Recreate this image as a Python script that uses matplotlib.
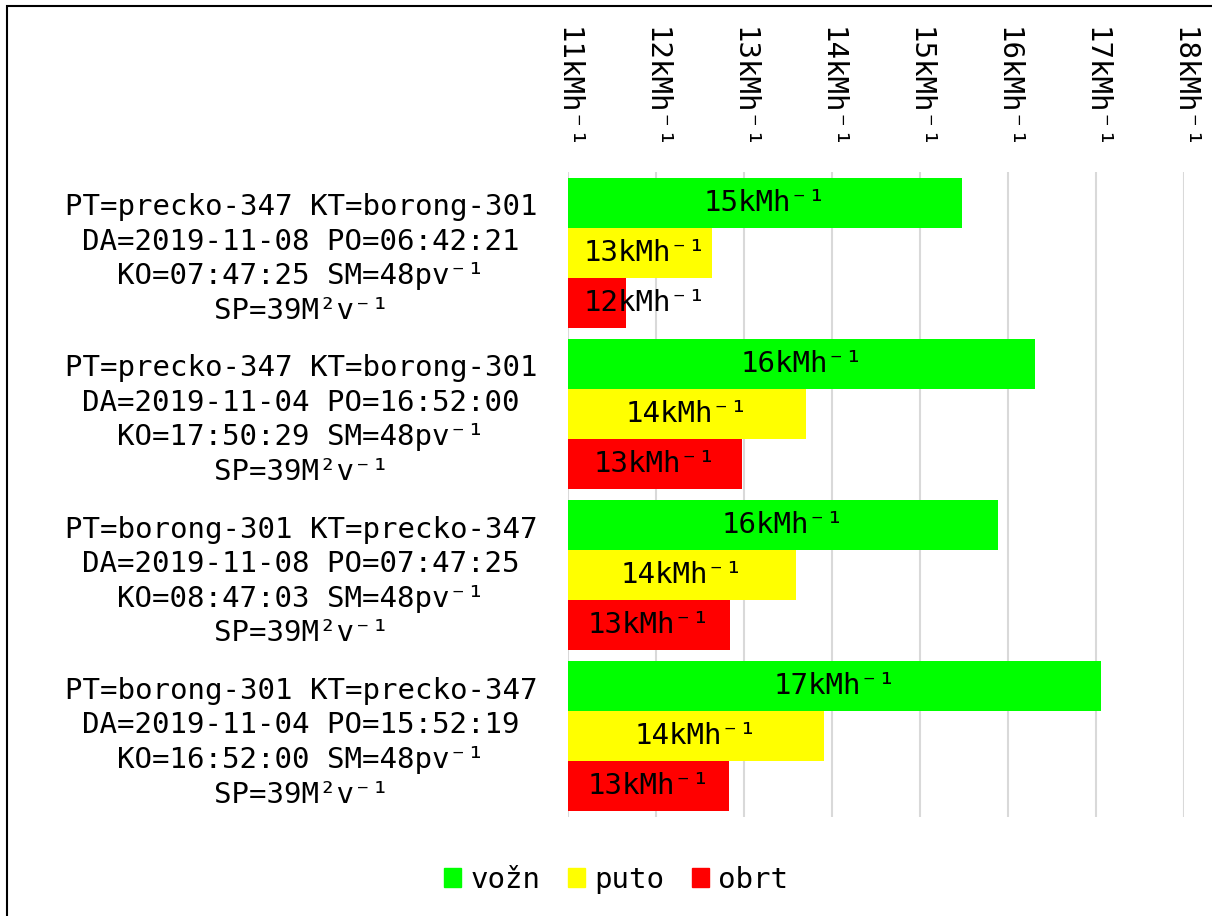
import matplotlib
matplotlib.use('Agg')
import matplotlib.pyplot as plt
from matplotlib.patches import Patch, Rectangle

plt.rcParams['font.family'] = ['DejaVu Sans Mono', 'DejaVu Sans']

routes = [
    'PT=precko-347 KT=borong-301\nDA=2019-11-08 PO=06:42:21\nKO=07:47:25 SM=48pv⁻¹\nSP=39M²v⁻¹',
    'PT=precko-347 KT=borong-301\nDA=2019-11-04 PO=16:52:00\nKO=17:50:29 SM=48pv⁻¹\nSP=39M²v⁻¹',
    'PT=borong-301 KT=precko-347\nDA=2019-11-08 PO=07:47:25\nKO=08:47:03 SM=48pv⁻¹\nSP=39M²v⁻¹',
    'PT=borong-301 KT=precko-347\nDA=2019-11-04 PO=15:52:19\nKO=16:52:00 SM=48pv⁻¹\nSP=39M²v⁻¹',
]
vozn = [15.48, 16.31, 15.89, 17.06]
puto = [12.64, 13.70, 13.59, 13.91]
obrt = [11.66, 12.98, 12.84, 12.83]
series = [('vožn', vozn, '#00ff00'), ('puto', puto, '#ffff00'), ('obrt', obrt, '#ff0000')]
ticks = list(range(11, 19))

fig = plt.figure(figsize=(12.12, 9.16), dpi=100)
ax = fig.add_axes([568 / 1212, 1 - 817 / 916, (1184 - 568) / 1212, (817 - 172) / 916])

h = 0.31
xmin = 11
for k, (name, vals, col) in enumerate(series):
    ys = [i + (k - 1) * h for i in range(len(vals))]
    ax.barh(ys, [v - xmin for v in vals], left=xmin, height=h, color=col, zorder=2)
    for y, v in zip(ys, vals):
        xc = max((xmin + v) / 2, 11.87)
        ax.text(xc, y, f'{round(v)}kMh⁻¹', ha='center', va='center', fontsize=21, zorder=3)

ax.set_xlim(11, 18)
ax.set_ylim(len(routes) - 0.5, -0.5)
ax.set_xticks(ticks)
ax.set_xticklabels([f'{t}kMh⁻¹' for t in ticks], rotation=-90, fontsize=21)
ax.xaxis.tick_top()
ax.tick_params(axis='x', length=0, pad=16)
ax.set_yticks(range(len(routes)))
ax.set_yticklabels(routes, fontsize=21, multialignment='center', linespacing=1.3)
ax.tick_params(axis='y', length=0, pad=22)
ax.grid(axis='x', color='#d9d9d9', lw=1.5, zorder=0)
ax.set_axisbelow(True)
for s in ax.spines.values():
    s.set_visible(False)

handles = [Patch(color=c, label=n) for n, _, c in series]
fig.legend(handles=handles, loc='center', bbox_to_anchor=(616 / 1212, 1 - 880 / 916), ncol=3,
           frameon=False, fontsize=21, handlelength=0.6, handleheight=0.6,
           handletextpad=0.3, columnspacing=0.95)

fig.patches.append(Rectangle((7 / 1212, -0.1), 1.2, 1 - 6 / 916 + 0.1, transform=fig.transFigure,
                             fill=False, edgecolor='black', lw=1.5))

fig.savefig('out.png', dpi=100)
